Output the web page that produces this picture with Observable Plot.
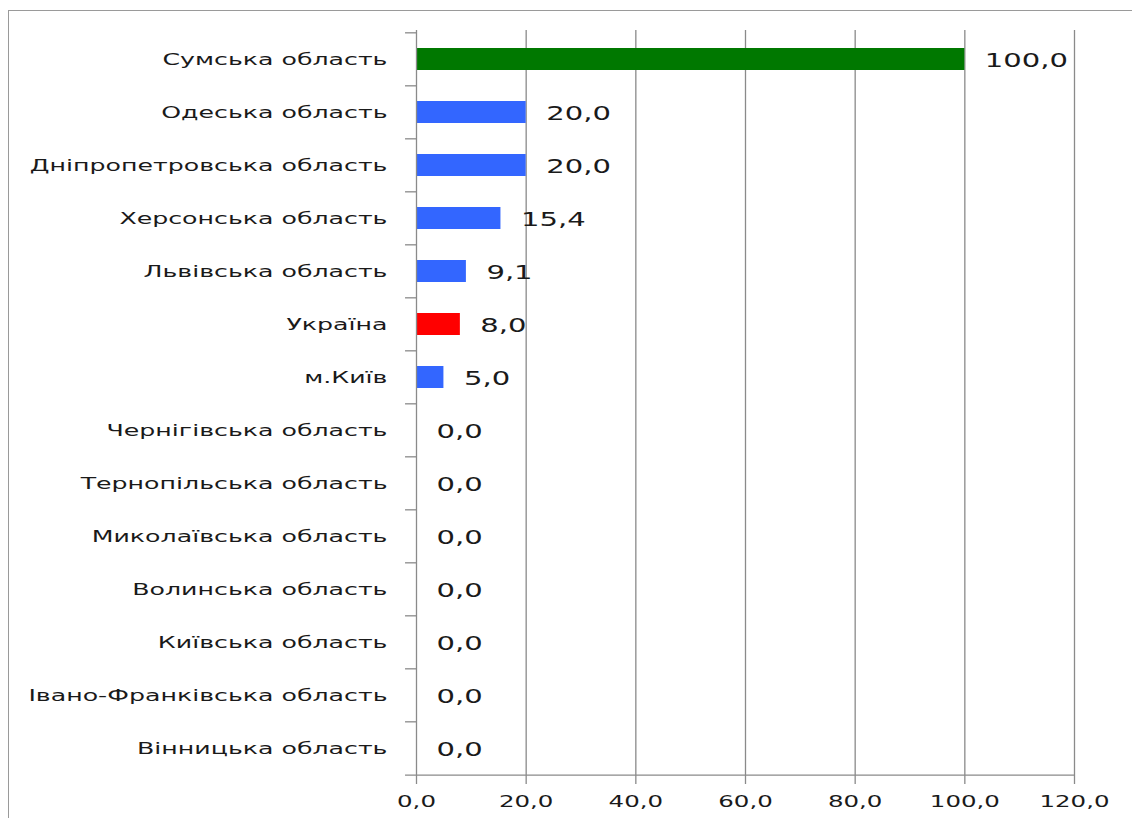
<!DOCTYPE html>
<html><head><meta charset="utf-8">
<script src="https://cdn.jsdelivr.net/npm/d3@7"></script>
<script src="https://cdn.jsdelivr.net/npm/@observablehq/plot@0.6"></script>
<style>
html,body{margin:0;padding:0;background:#fff;}
#wrap{position:relative;width:1132px;height:818px;overflow:hidden;}
#frame{position:absolute;left:8px;top:10px;width:1200px;height:900px;border-top:1.5px solid #9a9a9a;border-left:1.5px solid #9a9a9a;}
#wrap svg{position:absolute;left:0;top:0;}
[aria-label^="x-axis"] line, [aria-label="x-axis tick"] path {stroke:#8a8a8a; stroke-width:1.3px;}
[aria-label^="y-axis"] text {font-size:16.5px;}
[aria-label^="x-axis"] text {font-size:16px;}
</style></head><body><div id="wrap"><div id="frame"></div></div>
<script>
const regions = [
  "Сумська область",
  "Одеська область",
  "Дніпропетровська область",
  "Херсонська область",
  "Львівська область",
  "Україна",
  "м.Київ",
  "Чернігівська область",
  "Тернопільська область",
  "Миколаївська область",
  "Волинська область",
  "Київська область",
  "Івано-Франківська область",
  "Вінницька область"
];
const values = [100.0, 20.0, 20.0, 15.4, 9.1, 8.0, 5.0, 0.0, 0.0, 0.0, 0.0, 0.0, 0.0, 0.0];
const kinds = ["max","region","region","region","region","ukraine","region","region","region","region","region","region","region","region"];
const xTicks = [0, 20, 40, 60, 80, 100, 120];

const fmt = d => d.toFixed(1).replace(".", ",");
const data = regions.map((r, i) => ({region: r, value: values[i], kind: kinds[i]}));

const W = 1132, H = 818, mT = 30, mB = 41, mL = 416, mR = 58;
const step = (H - mT - mB) / regions.length;
const gray = "#8a8a8a";

const plot = Plot.plot({
  width: W, height: H, marginTop: mT, marginBottom: mB, marginLeft: mL, marginRight: mR,
  style: {fontFamily: "DejaVu Sans", color: "#1a1a1a", background: "transparent", fontSize: "16px"},
  x: {domain: [0, 120], ticks: xTicks, tickFormat: fmt, tickSize: 7, tickPadding: 11, label: null},
  y: {domain: regions, paddingInner: 0.59, paddingOuter: 0.295, tickSize: 0, tickPadding: 29, label: null},
  color: {domain: ["max", "region", "ukraine"], range: ["#007800", "#3366ff", "#ff0000"]},
  marks: [
    Plot.ruleX(xTicks.slice(1), {stroke: gray, strokeWidth: 1.3}),
    Plot.barX(data, {y: "region", x: "value", fill: "kind"}),
    Plot.ruleX([0], {stroke: gray, strokeWidth: 1.3}),
    Plot.ruleY(regions, {y: d => d, x1: -2, x2: 0, dy: -step / 2, stroke: gray, strokeWidth: 1.3}),
    Plot.ruleY([regions[regions.length - 1]], {y: d => d, x1: -2, x2: 120, dy: step / 2, stroke: gray, strokeWidth: 1.3}),
    Plot.text(data, {y: "region", x: "value", text: d => fmt(d.value), textAnchor: "start", dx: 20, dy: 1.5, fontSize: 19, fill: "#1a1a1a"})
  ]
});
document.getElementById("wrap").appendChild(plot);

function stretch(svg, s) {
  const sr = svg.getBoundingClientRect();
  svg.querySelectorAll("text").forEach(t => {
    const r = t.getBoundingClientRect();
    const anchor = getComputedStyle(t).textAnchor;
    let ax = anchor === "end" ? r.right : anchor === "middle" ? (r.left + r.right) / 2 : r.left;
    ax -= sr.left;
    const parent = t.parentNode;
    const ctm = parent.getCTM();
    ax -= ctm ? ctm.e : 0;
    const g = document.createElementNS("http://www.w3.org/2000/svg", "g");
    parent.insertBefore(g, t);
    g.appendChild(t);
    g.setAttribute("transform", `translate(${ax},0) scale(${s},1) translate(${-ax},0)`);
  });
}
stretch(plot, 1.53);
</script>
</body></html>
